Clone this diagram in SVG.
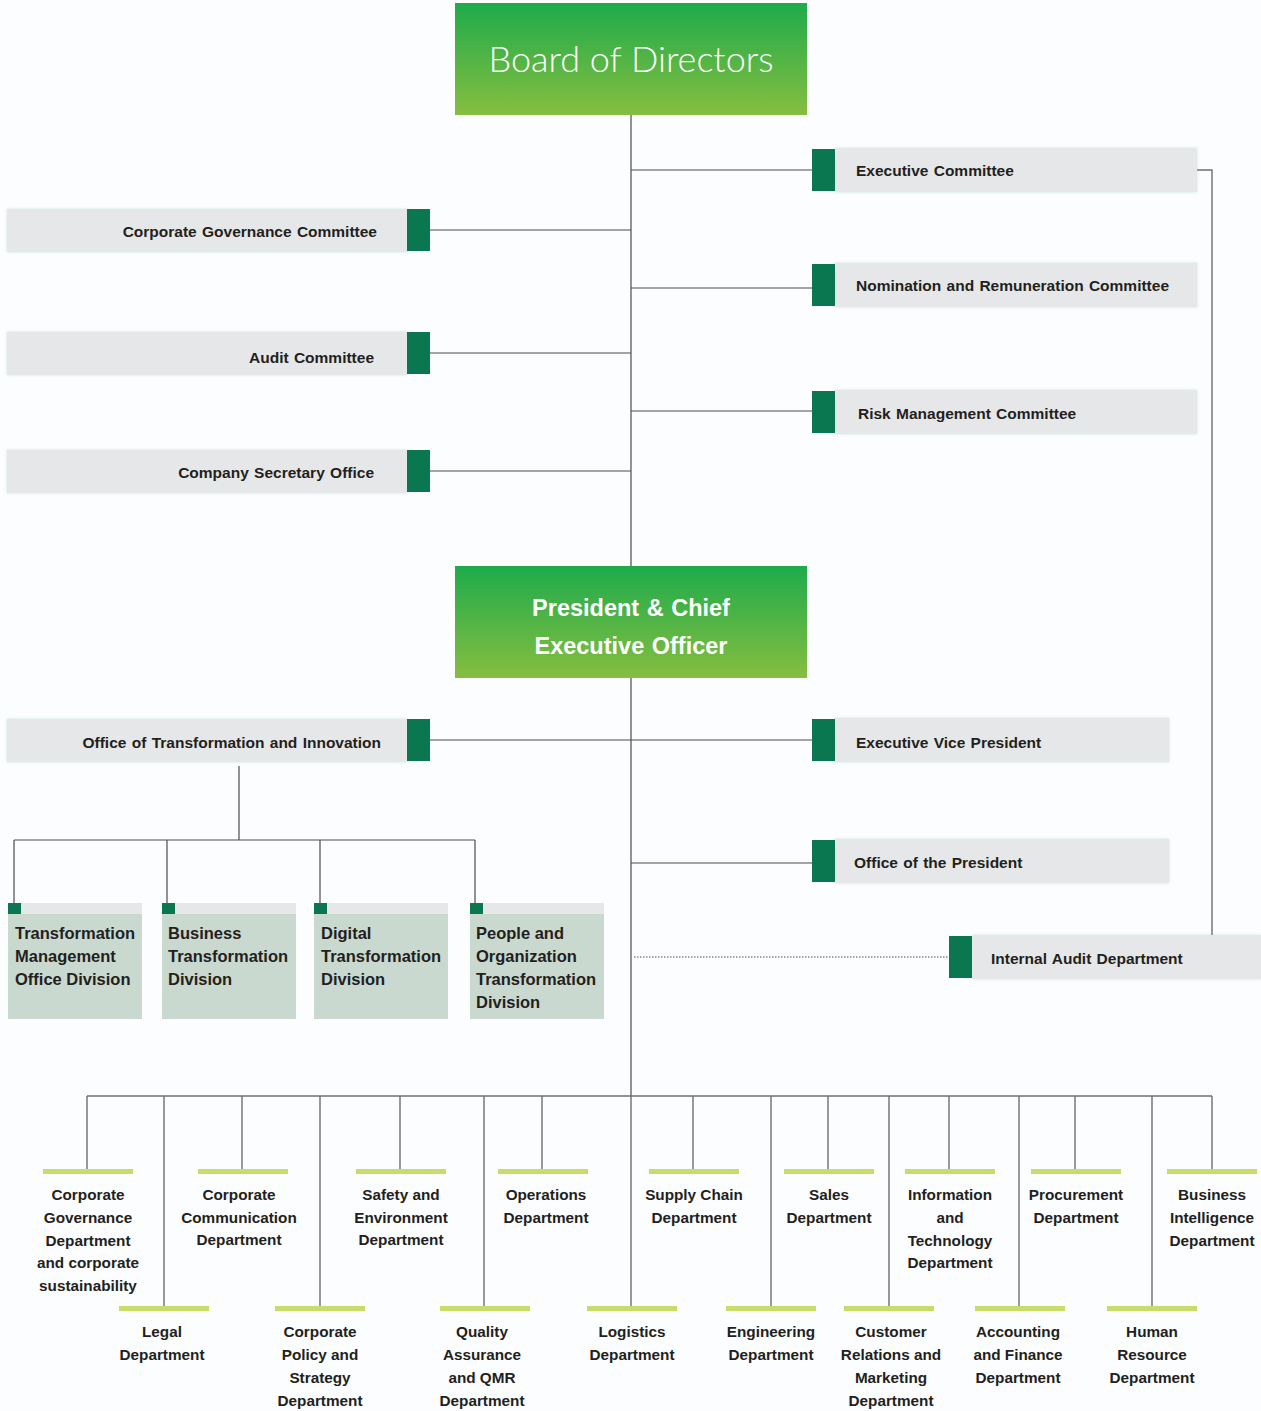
<svg xmlns="http://www.w3.org/2000/svg" width="1261" height="1411" viewBox="0 0 1261 1411">
<defs>
<linearGradient id="gg" x1="0" y1="0" x2="0" y2="1">
<stop offset="0" stop-color="#1eab4b"/>
<stop offset="1" stop-color="#86be40"/>
</linearGradient>
<filter id="glow" x="-5%" y="-30%" width="110%" height="160%">
<feDropShadow dx="0" dy="0" stdDeviation="1.6" flood-color="#7fcaa8" flood-opacity="0.45"/>
</filter>
</defs>
<style>
.bg{fill:#fcfdfe}
.gray{fill:#e6e7e8;filter:url(#glow)}
.gsq{fill:#0a7750}
.lbl{font-family:"Liberation Sans",Arial,sans-serif;font-weight:bold;font-size:15.5px;fill:#231f20;word-spacing:1px}
.div{fill:#cad9d0}
.strip{fill:#e6e7e8}
.dtx{font-family:"Liberation Sans",Arial,sans-serif;font-weight:bold;font-size:16.5px;fill:#231f20}
.bar{fill:#c8dc6a}
.dep{font-family:"Liberation Sans",Arial,sans-serif;font-weight:bold;font-size:15.3px;fill:#231f20;text-anchor:middle}
.ln{stroke:#4d4d4f;stroke-width:1.2;fill:none}
.ln2{stroke:#6d6e71;stroke-width:1.4;fill:none}
.dot{stroke:#4d4d4f;stroke-width:1;stroke-dasharray:1.5 1.5;fill:none}
</style>
<rect class="bg" x="0" y="0" width="1261" height="1411"/>

<g id="connectors">
<path class="ln" d="M631 115V566M631 678V1096"/>
<path class="ln" d="M631 170H812M631 288H812M631 411H812"/>
<path class="ln" d="M430 230H631M430 353H631M430 471H631"/>
<path class="ln2" d="M1197 170H1212V936"/>
<path class="ln" d="M430 740H812M631 863H812"/>
<path class="dot" d="M634 957H949"/>
<path class="ln" d="M239 766V840M14 840H475M14 840V903M167 840V903M320 840V903M475 840V903"/>
<path class="ln2" d="M87 1096H1212"/>
<path class="ln2" d="M87 1096V1169M242 1096V1169M400 1096V1169M542 1096V1169M693 1096V1169M828 1096V1169M949 1096V1169M1075 1096V1169M1212 1096V1169"/>
<path class="ln2" d="M164 1096V1306M320 1096V1306M484 1096V1306M631 1096V1306M771 1096V1306M889 1096V1306M1019 1096V1306M1152 1096V1306"/>
</g>

<g id="board">
<rect x="455" y="3" width="352" height="112" fill="url(#gg)"/>
<text x="631" y="72" text-anchor="middle" font-family="Lato,'Open Sans',sans-serif" font-weight="300" font-size="36" fill="#ffffff">Board of Directors</text>
</g>

<g id="exec-committee">
<rect class="gray" x="835" y="148" width="362" height="44"/>
<rect class="gsq" x="812" y="149" width="23" height="42"/>
<text class="lbl" x="856" y="176">Executive Committee</text>
</g>
<g id="nomination">
<rect class="gray" x="835" y="263" width="362" height="44"/>
<rect class="gsq" x="812" y="264" width="23" height="42"/>
<text class="lbl" x="856" y="291">Nomination and Remuneration Committee</text>
</g>
<g id="risk">
<rect class="gray" x="835" y="390" width="362" height="44"/>
<rect class="gsq" x="812" y="391" width="23" height="42"/>
<text class="lbl" x="858" y="419">Risk Management Committee</text>
</g>

<g id="corp-gov-committee">
<rect class="gray" x="7" y="209" width="400" height="43"/>
<rect class="gsq" x="407" y="209" width="23" height="42"/>
<text class="lbl" x="377" y="237" text-anchor="end">Corporate Governance Committee</text>
</g>
<g id="audit-committee">
<rect class="gray" x="7" y="332" width="400" height="43"/>
<rect class="gsq" x="407" y="332" width="23" height="42"/>
<text class="lbl" x="374" y="363" text-anchor="end">Audit Committee</text>
</g>
<g id="company-secretary">
<rect class="gray" x="7" y="450" width="400" height="43"/>
<rect class="gsq" x="407" y="450" width="23" height="42"/>
<text class="lbl" x="374" y="478" text-anchor="end">Company Secretary Office</text>
</g>

<g id="president">
<rect x="455" y="566" width="352" height="112" fill="url(#gg)"/>
<text x="631" y="616" text-anchor="middle" font-family="'Liberation Sans',Arial,sans-serif" font-weight="bold" font-size="23.5" fill="#ffffff" word-spacing="1">President &amp; Chief</text>
<text x="631" y="654" text-anchor="middle" font-family="'Liberation Sans',Arial,sans-serif" font-weight="bold" font-size="23.5" fill="#ffffff" word-spacing="1">Executive Officer</text>
</g>

<g id="office-transformation">
<rect class="gray" x="7" y="719" width="400" height="43"/>
<rect class="gsq" x="407" y="719" width="23" height="42"/>
<text class="lbl" x="381" y="748" text-anchor="end">Office of Transformation and Innovation</text>
</g>
<g id="evp">
<rect class="gray" x="835" y="718" width="334" height="44"/>
<rect class="gsq" x="812" y="719" width="23" height="42"/>
<text class="lbl" x="856" y="748">Executive Vice President</text>
</g>
<g id="office-president">
<rect class="gray" x="835" y="839" width="334" height="44"/>
<rect class="gsq" x="812" y="840" width="23" height="42"/>
<text class="lbl" x="854" y="868">Office of the President</text>
</g>
<g id="internal-audit">
<rect class="gray" x="972" y="935" width="289" height="44"/>
<rect class="gsq" x="949" y="936" width="23" height="42"/>
<text class="lbl" x="991" y="964">Internal Audit Department</text>
</g>

<g id="div-tmo">
<rect class="div" x="8" y="903" width="134" height="116"/>
<rect class="strip" x="8" y="903" width="134" height="11"/>
<rect class="gsq" x="8" y="903" width="13" height="11"/>
<text class="dtx" x="15" y="939">Transformation</text>
<text class="dtx" x="15" y="962">Management</text>
<text class="dtx" x="15" y="985">Office Division</text>
</g>
<g id="div-bt">
<rect class="div" x="162" y="903" width="134" height="116"/>
<rect class="strip" x="162" y="903" width="134" height="11"/>
<rect class="gsq" x="162" y="903" width="13" height="11"/>
<text class="dtx" x="168" y="939">Business</text>
<text class="dtx" x="168" y="962">Transformation</text>
<text class="dtx" x="168" y="985">Division</text>
</g>
<g id="div-dt">
<rect class="div" x="314" y="903" width="134" height="116"/>
<rect class="strip" x="314" y="903" width="134" height="11"/>
<rect class="gsq" x="314" y="903" width="13" height="11"/>
<text class="dtx" x="321" y="939">Digital</text>
<text class="dtx" x="321" y="962">Transformation</text>
<text class="dtx" x="321" y="985">Division</text>
</g>
<g id="div-pot">
<rect class="div" x="470" y="903" width="134" height="116"/>
<rect class="strip" x="470" y="903" width="134" height="11"/>
<rect class="gsq" x="470" y="903" width="13" height="11"/>
<text class="dtx" x="476" y="939">People and</text>
<text class="dtx" x="476" y="962">Organization</text>
<text class="dtx" x="476" y="985">Transformation</text>
<text class="dtx" x="476" y="1008">Division</text>
</g>

<g id="dep-corp-gov">
<rect class="bar" x="43" y="1169" width="90" height="5"/>
<text class="dep" x="88" y="1200">Corporate</text>
<text class="dep" x="88" y="1223">Governance</text>
<text class="dep" x="88" y="1246">Department</text>
<text class="dep" x="88" y="1268">and corporate</text>
<text class="dep" x="88" y="1291">sustainability</text>
</g>
<g id="dep-corp-comm">
<rect class="bar" x="198" y="1169" width="90" height="5"/>
<text class="dep" x="239" y="1200">Corporate</text>
<text class="dep" x="239" y="1223">Communication</text>
<text class="dep" x="239" y="1245">Department</text>
</g>
<g id="dep-safety">
<rect class="bar" x="356" y="1169" width="90" height="5"/>
<text class="dep" x="401" y="1200">Safety and</text>
<text class="dep" x="401" y="1223">Environment</text>
<text class="dep" x="401" y="1245">Department</text>
</g>
<g id="dep-operations">
<rect class="bar" x="498" y="1169" width="90" height="5"/>
<text class="dep" x="546" y="1200">Operations</text>
<text class="dep" x="546" y="1223">Department</text>
</g>
<g id="dep-supply">
<rect class="bar" x="649" y="1169" width="90" height="5"/>
<text class="dep" x="694" y="1200">Supply Chain</text>
<text class="dep" x="694" y="1223">Department</text>
</g>
<g id="dep-sales">
<rect class="bar" x="784" y="1169" width="90" height="5"/>
<text class="dep" x="829" y="1200">Sales</text>
<text class="dep" x="829" y="1223">Department</text>
</g>
<g id="dep-it">
<rect class="bar" x="905" y="1169" width="90" height="5"/>
<text class="dep" x="950" y="1200">Information</text>
<text class="dep" x="950" y="1223">and</text>
<text class="dep" x="950" y="1246">Technology</text>
<text class="dep" x="950" y="1268">Department</text>
</g>
<g id="dep-procurement">
<rect class="bar" x="1031" y="1169" width="90" height="5"/>
<text class="dep" x="1076" y="1200">Procurement</text>
<text class="dep" x="1076" y="1223">Department</text>
</g>
<g id="dep-bi">
<rect class="bar" x="1167" y="1169" width="90" height="5"/>
<text class="dep" x="1212" y="1200">Business</text>
<text class="dep" x="1212" y="1223">Intelligence</text>
<text class="dep" x="1212" y="1246">Department</text>
</g>

<g id="dep-legal">
<rect class="bar" x="119" y="1306" width="90" height="5"/>
<text class="dep" x="162" y="1337">Legal</text>
<text class="dep" x="162" y="1360">Department</text>
</g>
<g id="dep-policy">
<rect class="bar" x="275" y="1306" width="90" height="5"/>
<text class="dep" x="320" y="1337">Corporate</text>
<text class="dep" x="320" y="1360">Policy and</text>
<text class="dep" x="320" y="1383">Strategy</text>
<text class="dep" x="320" y="1406">Department</text>
</g>
<g id="dep-quality">
<rect class="bar" x="440" y="1306" width="90" height="5"/>
<text class="dep" x="482" y="1337">Quality</text>
<text class="dep" x="482" y="1360">Assurance</text>
<text class="dep" x="482" y="1383">and QMR</text>
<text class="dep" x="482" y="1406">Department</text>
</g>
<g id="dep-logistics">
<rect class="bar" x="587" y="1306" width="90" height="5"/>
<text class="dep" x="632" y="1337">Logistics</text>
<text class="dep" x="632" y="1360">Department</text>
</g>
<g id="dep-engineering">
<rect class="bar" x="726" y="1306" width="90" height="5"/>
<text class="dep" x="771" y="1337">Engineering</text>
<text class="dep" x="771" y="1360">Department</text>
</g>
<g id="dep-customer">
<rect class="bar" x="844" y="1306" width="90" height="5"/>
<text class="dep" x="891" y="1337">Customer</text>
<text class="dep" x="891" y="1360">Relations and</text>
<text class="dep" x="891" y="1383">Marketing</text>
<text class="dep" x="891" y="1406">Department</text>
</g>
<g id="dep-accounting">
<rect class="bar" x="975" y="1306" width="90" height="5"/>
<text class="dep" x="1018" y="1337">Accounting</text>
<text class="dep" x="1018" y="1360">and Finance</text>
<text class="dep" x="1018" y="1383">Department</text>
</g>
<g id="dep-hr">
<rect class="bar" x="1107" y="1306" width="90" height="5"/>
<text class="dep" x="1152" y="1337">Human</text>
<text class="dep" x="1152" y="1360">Resource</text>
<text class="dep" x="1152" y="1383">Department</text>
</g>
</svg>
